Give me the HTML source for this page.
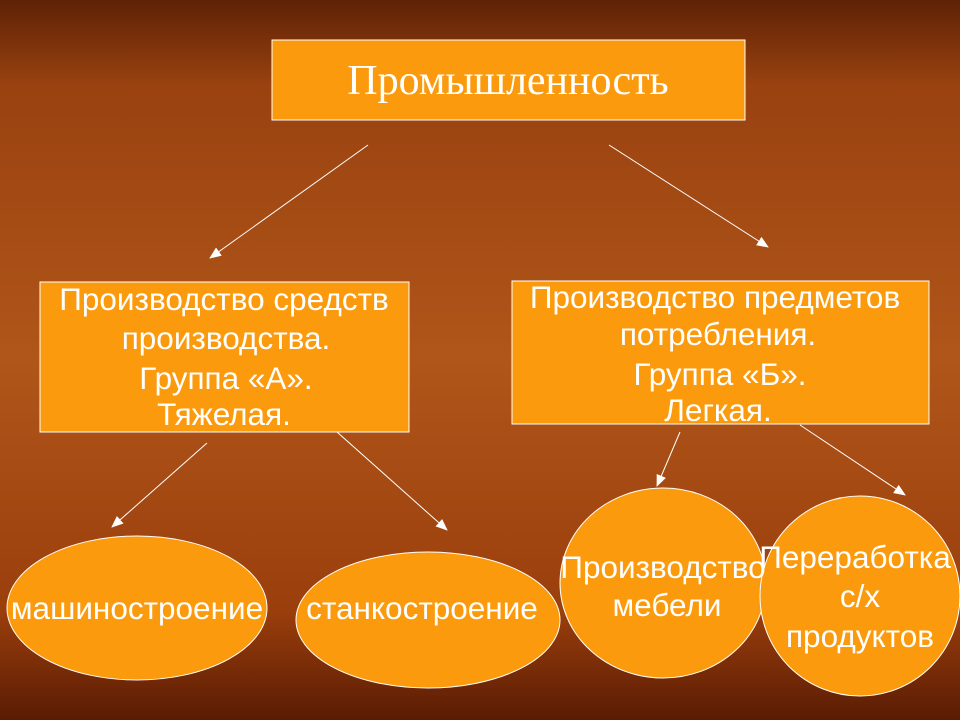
<!DOCTYPE html>
<html><head><meta charset="utf-8"><style>
html,body{margin:0;padding:0;width:960px;height:720px;overflow:hidden}
text{fill:#fff;font-family:"Liberation Sans",sans-serif;font-size:31.5px;text-anchor:middle}
</style></head><body>
<svg width="960" height="720" viewBox="0 0 960 720" xmlns="http://www.w3.org/2000/svg">
<defs>
<linearGradient id="bg" x1="0" y1="0" x2="0" y2="1">
<stop offset="0" stop-color="#5e2206"/>
<stop offset="0.12" stop-color="#9a4210"/>
<stop offset="0.5" stop-color="#b0561a"/>
<stop offset="0.85" stop-color="#9a3e0c"/>
<stop offset="1" stop-color="#5a1c04"/>
</linearGradient>
<marker id="a" markerWidth="12" markerHeight="10" refX="11" refY="5" orient="auto" markerUnits="userSpaceOnUse">
<path d="M0,0 L12,5 L0,10 Z" fill="#fff"/>
</marker>
</defs>
<rect width="960" height="720" fill="url(#bg)"/>
<g stroke="#fff" stroke-width="1" marker-end="url(#a)">
<line x1="368" y1="145" x2="210" y2="258"/>
<line x1="609" y1="145" x2="768" y2="247"/>
<line x1="207" y1="443" x2="112" y2="527"/>
<line x1="337" y1="432" x2="447" y2="530"/>
<line x1="680" y1="432" x2="657" y2="486"/>
<line x1="800" y1="425" x2="905" y2="495"/>
</g>
<g fill="#fb9a0c" stroke="#fff" stroke-width="1">
<rect x="272" y="40" width="473" height="80"/>
<rect x="40" y="282" width="369" height="150"/>
<rect x="512" y="281" width="417" height="143"/>
<ellipse cx="137" cy="608" rx="130" ry="72"/>
<ellipse cx="428" cy="620" rx="132" ry="68"/>
<ellipse cx="663" cy="583" rx="103" ry="95"/>
<ellipse cx="860" cy="596" rx="100" ry="100"/>
</g>
<text x="508" y="94" style="font-family:'Liberation Serif',serif;font-size:42px">Промышленность</text>
<text x="224" y="310">Производство средств</text>
<text x="226" y="349">производства.</text>
<text x="226" y="389">Группа «А».</text>
<text x="224" y="425">Тяжелая.</text>
<text x="715" y="308">Производство предметов</text>
<text x="718" y="345">потребления.</text>
<text x="720" y="385">Группа «Б».</text>
<text x="718" y="421">Легкая.</text>
<text x="137" y="619">машиностроение</text>
<text x="422" y="619">станкостроение</text>
<text x="663" y="578">Производство</text>
<text x="667" y="616">мебели</text>
<text x="855" y="568">Переработка</text>
<text x="860" y="607">с/х</text>
<text x="860" y="647">продуктов</text>
</svg>
</body></html>
